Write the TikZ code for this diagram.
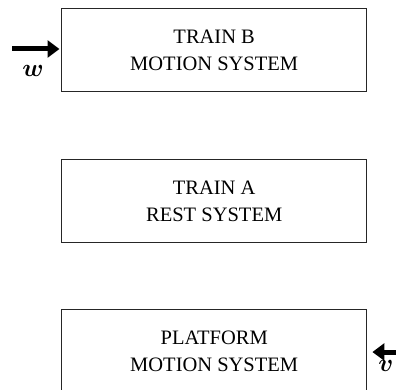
\documentclass[tikz,border=0pt]{standalone}
\usepackage{fontspec}
\setmainfont{Liberation Serif}
\usetikzlibrary{arrows.meta}
\begin{document}
\begin{tikzpicture}[x=1pt,y=-1pt,
  sysbox/.style={draw=black!85,line width=1.4pt,minimum width=305pt,minimum height=83pt,
    inner sep=0pt,align=center,font=\fontsize{20.5}{27.5}\selectfont,anchor=north west},
  motarrow/.style={line width=5pt,-{Triangle[length=12pt,width=17pt]}},
  lbl/.style={font=\fontsize{25}{27}\selectfont\boldmath,inner sep=0pt}]
\useasboundingbox (0,0) rectangle (396,390);
\begin{scope}
\clip (0,0) rectangle (396,390);
\node[sysbox] (b) at (61,8) {TRAIN B\\MOTION SYSTEM};
\node[sysbox] (a) at (61,159) {TRAIN A\\REST SYSTEM};
\node[sysbox] (p) at (61,309) {PLATFORM\\MOTION SYSTEM};
\end{scope}
\coordinate (ws) at (12,49);
\coordinate (vs) at (398,352);
\draw[motarrow] (ws) -- ([xshift=-1.5pt]b.west |- ws);
\draw[motarrow] (vs) -- ([xshift=5pt]p.east |- vs);
\node[lbl] (w) at (33,71) {$w$};
\node[lbl] (v) at (386,366) {$v$};
\end{tikzpicture}
\end{document}
